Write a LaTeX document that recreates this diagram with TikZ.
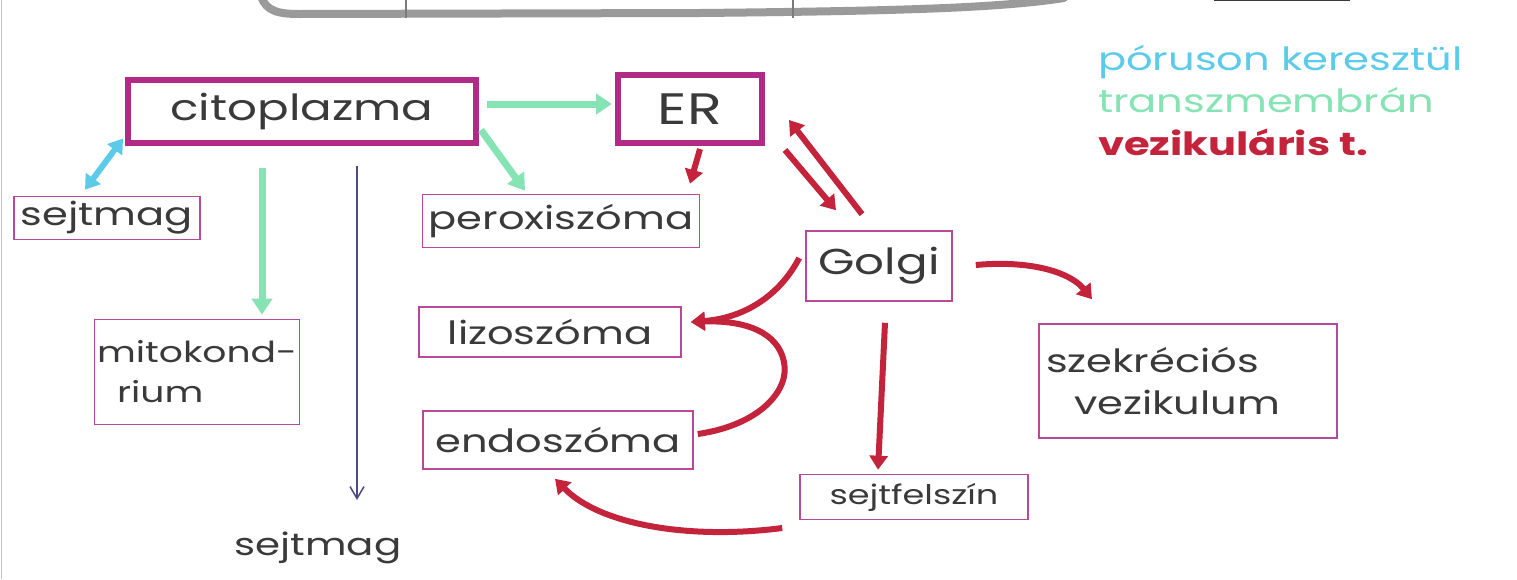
\documentclass[tikz,border=0pt]{standalone}
\usepackage{fontspec}
\newfontfamily\hand[FakeStretch=1.3]{Poppins}
\usetikzlibrary{arrows.meta,calc}
\definecolor{magbox}{HTML}{B02A86}
\definecolor{magthin}{HTML}{B8489A}
\definecolor{mint}{HTML}{86E3B4}
\definecolor{skyc}{HTML}{5CCBEA}
\definecolor{redv}{HTML}{C4233C}
\definecolor{inkb}{HTML}{4B4C86}
\definecolor{pencil}{HTML}{3A3A3A}
\definecolor{greyp}{HTML}{9A9A9A}
\tikzset{
  organ/.style={draw=magthin, line width=1.6pt, rectangle, text=pencil, inner sep=0pt, font=\hand\fontsize{32}{36}\selectfont},
  organbold/.style={organ, draw=magbox, line width=6pt},
  transm/.style={draw=mint, line width=7pt, -{Triangle[length=16pt,width=20pt]}},
  pore/.style={draw=skyc, line width=6pt, {Triangle[length=14pt,width=18pt]}-{Triangle[length=14pt,width=18pt]}},
  vesic/.style={draw=redv, line width=6pt, -{Triangle[length=14pt,width=18pt]}},
  other/.style={draw=inkb, line width=1.5pt, -{Straight Barb[length=12pt,width=14pt]}},
  legend/.style={anchor=west, inner sep=0pt, font=\hand\fontsize{32}{36}\selectfont}
}
\begin{document}
\begin{tikzpicture}[x=1pt,y=-1pt]
\useasboundingbox (0,0) rectangle (1517,579);
\fill[white] (0,0) rectangle (1517,579);
% left edge of the sheet
\draw[greyp!60, line width=1.5pt] (1.5,0) -- (1.5,579);
% bracket from the drawing above
\draw[greyp, line width=8pt, line cap=round] (261,-4) .. controls (266,12) and (280,14) .. (300,14)
  -- (700,13) .. controls (900,11) and (1000,8) .. (1064,-2);
\draw[greyp!80!black, line width=2pt] (406,-2) -- (406,18);
\draw[greyp!80!black, line width=2pt] (793,-2) -- (793,18);
\draw[pencil, line width=3pt] (1214,-1) -- (1350,-1);

% compartments
\node[organbold, minimum width=348, minimum height=63, font=\hand\fontsize{36}{40}\selectfont] (cito) at (302,111) {citoplazma};
\node[organbold, minimum width=144, minimum height=68, font=\hand\fontsize{44}{48}\selectfont] (er) at (690,109) {ER};
\node[organ, minimum width=186, minimum height=43] (nuc1) at (107,218) {sejtmag};
\node[organ, minimum width=277, minimum height=53] (perox) at (561,221) {peroxiszóma};
\node[organ, minimum width=146, minimum height=70, font=\hand\fontsize{36}{40}\selectfont] (golgi) at (879,266) {Golgi};
\node[organ, minimum width=262, minimum height=50] (lyso) at (550,332) {lizoszóma};
\node[organ, minimum width=270, minimum height=58] (endo) at (558,440) {endoszóma};
\node[organ, minimum width=228, minimum height=45, font=\hand\fontsize{27}{30}\selectfont] (surf) at (914,497) {sejtfelszín};
\node[organ, minimum width=205, minimum height=105, align=left, font=\hand\fontsize{29}{40}\selectfont] (mito) at (197,372) {mitokond-\\\hspace*{20pt}rium};
\node[organ, minimum height=114, text width=284, inner xsep=7pt, align=left, font=\hand\fontsize{32}{42}\selectfont] (secr) at (1188,381) {szekréciós\\\hspace*{28pt}vezikulum};
\node[inner sep=0pt, text=pencil, font=\hand\fontsize{31}{34}\selectfont] (nuc2) at (318,548) {sejtmag};

% legend
\node[legend, text=skyc] (lpore) at (1098,62) {póruson keresztül};
\node[legend, text=mint] (ltrans) at (1098,100) {transzmembrán};
\node[legend, text=redv, font=\hand\bfseries\fontsize{32}{36}\selectfont] (lvesic) at (1098,142) {vezikuláris t.};

% transport through the nuclear pores
\draw[pore] ($(nuc1.north)+(-22,-6)$) -- ($(cito.south west)+(-2,-7)$);

% transmembrane transport
\draw[transm] ($(cito.east)+(8,-7)$) -- ($(er.west)+(-3,-5)$);
\draw[transm] ($(cito.east)+(2,19)$) -- ($(perox.north)+(-36,-3)$);
\draw[transm] ($(cito.south)+(-40,22)$) -- ($(mito.north)+(65,-4)$);

% plain arrow down to the nucleus
\draw[other] ($(cito.south)+(55,20)$) -- ($(nuc2.center)+(39,-48)$);

% vesicular transport
\draw[vesic] ($(er.south)+(10,3)$) -- ($(perox.north)+(129,-10)$);
\draw[vesic] ($(er.east)+(20,41)$) -- ($(golgi.north)+(-43,-20)$);
\draw[vesic] ($(golgi.north)+(-17,-16)$) -- ($(er.east)+(24,11)$);
\draw[vesic] ($(golgi.west)+(-6,-8)$) .. controls (780,295) and (745,318) .. ($(lyso.east)+(9,-10)$);
\draw[vesic] ($(endo.east)+(4,-6)$) .. controls (760,425) and (790,390) .. (784,362)
  .. controls (778,332) and (745,320) .. ($(lyso.east)+(9,-10)$);
\draw[vesic] ($(golgi.south)+(6,21)$) -- ($(surf.north)+(-36,-4)$);
\draw[vesic] ($(surf.west)+(-17,31)$) .. controls (690,540) and (600,525) .. ($(endo.south)+(-3,9)$);
\draw[vesic] ($(golgi.east)+(23,-1)$) .. controls (1030,260) and (1070,272) .. ($(secr.north)+(-96,-24)$);
\end{tikzpicture}
\end{document}
